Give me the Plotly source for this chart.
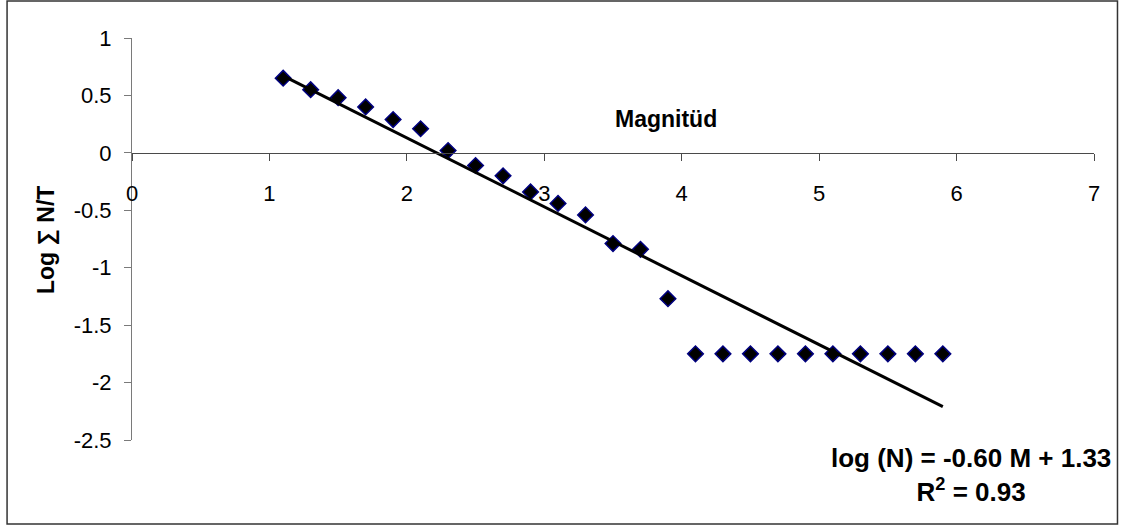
import plotly.graph_objects as go

# Data
magnitude = [1.1, 1.3, 1.5, 1.7, 1.9, 2.1, 2.3, 2.5, 2.7, 2.9, 3.1, 3.3, 3.5,
             3.7, 3.9, 4.1, 4.3, 4.5, 4.7, 4.9, 5.1, 5.3, 5.5, 5.7, 5.9]
log_nt = [0.65, 0.55, 0.48, 0.40, 0.29, 0.21, 0.02, -0.11, -0.20, -0.34, -0.44,
          -0.54, -0.79, -0.84, -1.27, -1.75, -1.75, -1.75, -1.75, -1.75, -1.75,
          -1.75, -1.75, -1.75, -1.75]
slope = -0.60
intercept = 1.33
r_squared = 0.93
x_ticks = [0, 1, 2, 3, 4, 5, 6, 7]
y_ticks = [1, 0.5, 0, -0.5, -1, -1.5, -2, -2.5]

FONT = "Liberation Sans, Arial, sans-serif"

trend_x = [min(magnitude), max(magnitude)]
trend_y = [slope * v + intercept for v in trend_x]

fig = go.Figure()
fig.add_trace(go.Scatter(
    x=magnitude, y=log_nt, mode="markers",
    marker=dict(symbol="diamond", size=12, color="black",
                line=dict(color="#000080", width=1.5)),
    showlegend=False, hoverinfo="x+y"))
fig.add_trace(go.Scatter(
    x=trend_x, y=trend_y, mode="lines",
    line=dict(color="black", width=3),
    showlegend=False, hoverinfo="skip"))

W, H = 1133, 526
L, R, T, B = 132, 1094.5, 38, 440
pw, ph = R - L, B - T

def px(xp):
    return (xp - L) / pw

def py(yp):
    return (B - yp) / ph

y_min, y_max = -2.5, 1.0
x_axis_pos = (0 - y_min) / (y_max - y_min)

fig.update_layout(
    width=W, height=H,
    margin=dict(l=L, r=W - R, t=T, b=H - B, pad=0),
    paper_bgcolor="white", plot_bgcolor="white",
    font=dict(family=FONT, size=22, color="black"),
    xaxis=dict(range=[0, 7], tickvals=x_ticks, ticktext=[str(v) for v in x_ticks],
               showgrid=False, zeroline=False, showline=True, linecolor="#4a4a4a",
               linewidth=1, ticks="outside", ticklen=7, tickcolor="#4a4a4a",
               anchor="free", position=x_axis_pos, ticklabelstandoff=14,
               tickfont=dict(family=FONT, size=22, color="black")),
    yaxis=dict(range=[y_min, y_max], tickvals=y_ticks,
               ticktext=[("%g" % v) for v in y_ticks],
               showgrid=False, zeroline=False, showline=True, linecolor="#7a7a7a",
               linewidth=1, ticks="outside", ticklen=7, tickcolor="#7a7a7a",
               ticklabelstandoff=8,
               tickfont=dict(family=FONT, size=22, color="black")),
    shapes=[dict(type="rect", xref="paper", yref="paper",
                 x0=px(7), x1=px(1118), y0=py(524), y1=py(1),
                 line=dict(color="#333333", width=1.5), layer="below")],
    annotations=[
        dict(text="<b>Magnitüd</b>", xref="paper", yref="paper",
             x=px(666), y=py(119), showarrow=False,
             xanchor="center", yanchor="middle",
             font=dict(family=FONT, size=23, color="black")),
        dict(text="<b>Log ∑ N/T</b>", xref="paper", yref="paper",
             x=px(46), y=py(240), showarrow=False, textangle=-90,
             xanchor="center", yanchor="middle",
             font=dict(family=FONT, size=23, color="black")),
        dict(text="<b>log (N) = %.2f M + %.2f</b><br><b>R<sup>2</sup> = %.2f</b>"
                  % (slope, intercept, r_squared),
             xref="paper", yref="paper", x=px(971), y=py(475),
             showarrow=False, xanchor="center", yanchor="middle", align="center",
             font=dict(family=FONT, size=26, color="black")),
    ],
)

fig.write_html("out.html")
